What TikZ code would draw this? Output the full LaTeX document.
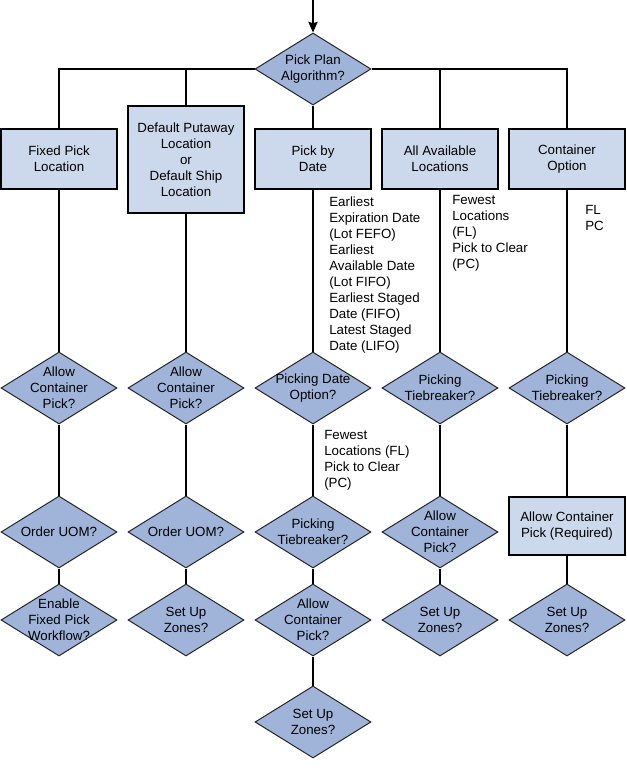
\documentclass[tikz,border=0pt]{standalone}
\usepackage{fontspec}
\setmainfont{Liberation Sans}
\usetikzlibrary{shapes.geometric,arrows.meta}
\definecolor{diafill}{RGB}{160,180,218}
\definecolor{boxfill}{RGB}{204,217,236}
\newcommand\mydia[3]{\node[dia] (#1) at #2 {}; \node[dtext] (#1t) at (#1) {#3};}
\begin{document}
\begin{tikzpicture}[x=0.75pt,y=-0.75pt,
  every node/.style={font=\fontsize{10}{12}\selectfont},
  box/.style={draw=black,line width=0.9pt,fill=boxfill,minimum width=87pt,minimum height=45pt,inner sep=0pt,align=center},
  dia/.style={diamond,draw=black!85,line width=0.75pt,fill=diafill,minimum width=87pt,minimum height=54pt,inner sep=0pt},
  dtext/.style={align=center,inner sep=0pt},
  note/.style={align=left,anchor=north west,inner sep=0pt},
  conn/.style={draw=black,line width=1pt}]
\useasboundingbox (0,0) rectangle (627,771);
% top
\coordinate (start) at (313,0);
\mydia{top}{(313,69)}{Pick Plan\\Algorithm?}
% boxes row
\node[box] (fixed) at (59,159) {Fixed Pick\\Location};
\node[box,minimum height=80.25pt] (def) at (186,159.5) {Default Putaway\\Location\\or\\Default Ship\\Location};
\node[box] (date) at (313,159) {Pick by\\Date};
\node[box] (avail) at (440,159) {All Available\\Locations};
\node[box] (cont) at (567,159) {Container\\Option};
% row 2
\mydia{acpa}{(59,388)}{Allow\\Container\\Pick?}
\mydia{acpb}{(186,388)}{Allow\\Container\\Pick?}
\mydia{pdo}{(313,388)}{Picking Date\\Option?}
\mydia{tbd}{(440,388)}{Picking\\Tiebreaker?}
\mydia{tbe}{(567,388)}{Picking\\Tiebreaker?}
% row 3
\mydia{uoma}{(59,532)}{Order UOM?}
\mydia{uomb}{(186,532)}{Order UOM?}
\mydia{tbc}{(313,532)}{Picking\\Tiebreaker?}
\mydia{acpd}{(440,532)}{Allow\\Container\\Pick?}
\node[box,minimum height=43.5pt] (acpe) at (567,526) {Allow Container\\Pick (Required)};
% row 4
\mydia{enab}{(59,620)}{Enable\\Fixed Pick\\Workflow?}
\mydia{zonb}{(186,620)}{Set Up\\Zones?}
\mydia{acpc}{(313,620)}{Allow\\Container\\Pick?}
\mydia{zond}{(440,620)}{Set Up\\Zones?}
\mydia{zone}{(567,620)}{Set Up\\Zones?}
% row 5
\mydia{zonc}{(313,722)}{Set Up\\Zones?}
% notes
\node[note] (n1) at (329,197) {Earliest\\Expiration Date\\(Lot FEFO)\\Earliest\\Available Date\\(Lot FIFO)\\Earliest Staged\\Date (FIFO)\\Latest Staged\\Date (LIFO)};
\node[note] (n2) at (452,195) {Fewest\\Locations\\(FL)\\Pick to Clear\\(PC)};
\node[note] (n3) at (585,205) {FL\\PC};
\node[note] (n4) at (324,430) {Fewest\\Locations (FL)\\Pick to Clear\\(PC)};
% connectors
\draw[conn,-{Stealth[length=8pt,width=7pt,inset=1pt]}] (start) -- (top.north);
\draw[conn] (top.west) -| (fixed.north);
\draw[conn] (def.north |- top.west) -- (def.north);
\draw[conn] (top.east) -| (cont.north);
\draw[conn] (avail.north |- top.east) -- (avail.north);
\draw[conn] (top.south) -- (date.north);
\draw[conn] (fixed.south) -- (acpa.north);
\draw[conn] (acpa.south) -- (uoma.north);
\draw[conn] (uoma.south) -- (enab.north);
\draw[conn] (def.south) -- (acpb.north);
\draw[conn] (acpb.south) -- (uomb.north);
\draw[conn] (uomb.south) -- (zonb.north);
\draw[conn] (date.south) -- (pdo.north);
\draw[conn] (pdo.south) -- (tbc.north);
\draw[conn] (tbc.south) -- (acpc.north);
\draw[conn] (acpc.south) -- (zonc.north);
\draw[conn] (avail.south) -- (tbd.north);
\draw[conn] (tbd.south) -- (acpd.north);
\draw[conn] (acpd.south) -- (zond.north);
\draw[conn] (cont.south) -- (tbe.north);
\draw[conn] (tbe.south) -- (acpe.north);
\draw[conn] (acpe.south) -- (zone.north);
\end{tikzpicture}
\end{document}
